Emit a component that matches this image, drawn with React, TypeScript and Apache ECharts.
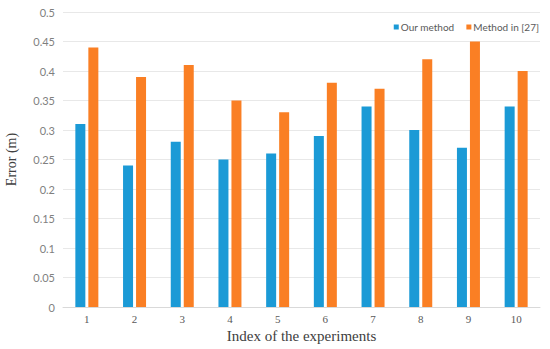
import React, { useEffect, useRef } from "react";
import * as echarts from "echarts";

const categories = ["1", "2", "3", "4", "5", "6", "7", "8", "9", "10"];
const ourMethod = [0.31, 0.24, 0.28, 0.25, 0.26, 0.29, 0.34, 0.30, 0.27, 0.34];
const method27 = [0.44, 0.39, 0.41, 0.35, 0.33, 0.38, 0.37, 0.42, 0.45, 0.40];
const seriesNames = ["Our method", "Method in [27]"];

export default function App() {
  const ref = useRef<HTMLDivElement>(null);
  useEffect(() => {
    if (!ref.current) return;
    const chart = echarts.init(ref.current, undefined, { renderer: "svg" });
    chart.setOption({
      animation: false,
      backgroundColor: "#ffffff",
      grid: { left: 63, right: 10, top: 12, bottom: 42, containLabel: false, outerBoundsMode: "none" },
      legend: {
        right: 6,
        top: 17,
        itemWidth: 5,
        itemHeight: 5,
        itemGap: 12,
        icon: "rect",
        textStyle: { color: "#595959", fontSize: 10, fontFamily: "Lato, sans-serif", padding: [0, 0, 0, -3] },
        data: seriesNames,
      },
      xAxis: {
        type: "category",
        data: categories,
        name: "Index of the experiments",
        nameLocation: "middle",
        nameGap: 20,
        nameTextStyle: { fontFamily: "Liberation Serif, serif", fontSize: 15, color: "#404040" },
        axisLine: { lineStyle: { color: "#d9d9d9" } },
        axisTick: { show: false },
        axisLabel: { color: "#595959", fontSize: 11, fontFamily: "Liberation Serif, serif", margin: 6 },
      },
      yAxis: {
        type: "value",
        min: 0,
        max: 0.5,
        interval: 0.05,
        name: "Error (m)",
        nameLocation: "middle",
        nameGap: 45,
        nameTextStyle: { fontFamily: "Liberation Serif, serif", fontSize: 14, color: "#404040" },
        axisLine: { show: false },
        axisTick: { show: false },
        splitLine: { lineStyle: { color: "#e8e8e8" } },
        axisLabel: {
          color: "#7f7f7f",
          fontSize: 11,
          fontFamily: "Lato, sans-serif",
          margin: 8,
          formatter: (v: number) => String(parseFloat(v.toFixed(2))),
        },
      },
      series: [
        {
          name: seriesNames[0],
          type: "bar",
          data: ourMethod,
          barWidth: 10,
          barGap: "30%",
          itemStyle: { color: "#1b9ad6" },
        },
        {
          name: seriesNames[1],
          type: "bar",
          data: method27,
          barWidth: 10,
          itemStyle: { color: "#fa7f24" },
        },
      ],
    });
    return () => chart.dispose();
  }, []);
  return <div ref={ref} style={{ width: 550, height: 349, position: "absolute", left: 0, top: 0 }} />;
}
